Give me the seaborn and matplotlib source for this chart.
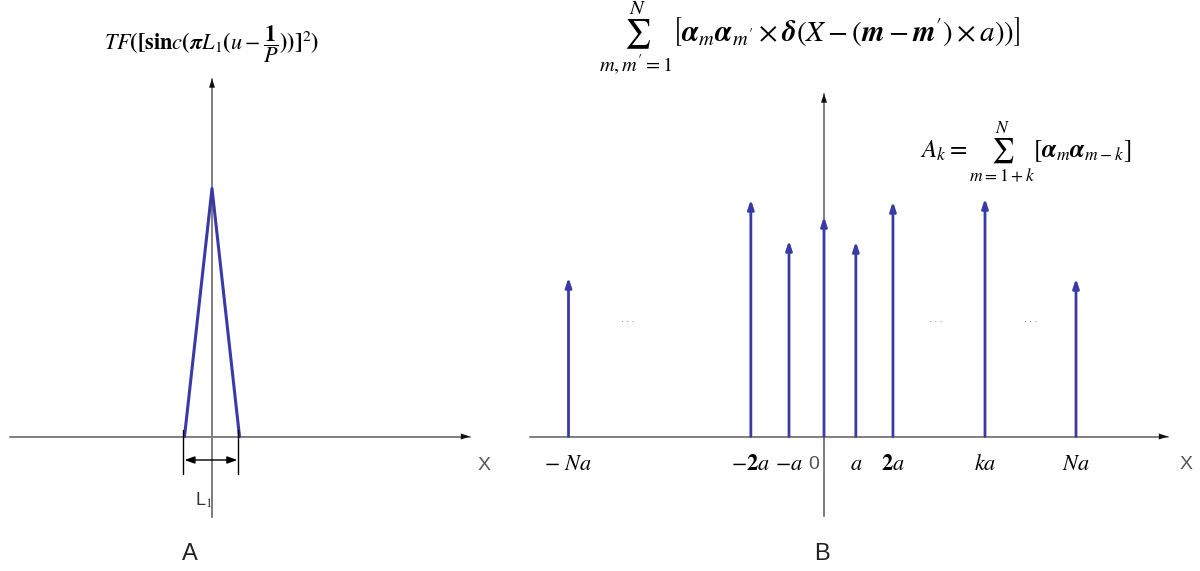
import numpy as np
import pandas as pd
import matplotlib
matplotlib.use("Agg")
import matplotlib.pyplot as plt
import seaborn as sns

# ==================== 数据 ====================
# 图A：三角形（单位 L1）
tri_x = [-0.5, 0.0, 0.5]
tri_y = [0.0, 2.48, 0.0]

# 图B：冲激位置（单位 a）与幅度
pos_b = [-7.3, -2.09, -1.0, 0.0, 0.91, 1.97, 4.6, 7.2]
amp_b = [1.59, 2.37, 1.96, 2.20, 1.95, 2.35, 2.38, 1.58]
tick_labels_b = [r'$-\ Na$', r'$-\mathbf{2}a$', r'$-a$', '0', r'$a$',
                 r'$\mathbf{2}a$', r'$ka$', r'$Na$']
dots_b = [-5.6, 3.2, 5.9]

sns.set_theme(style="white")
plt.rcParams['font.family'] = ['Liberation Sans', 'DejaVu Sans']
plt.rcParams['mathtext.fontset'] = 'stix'

STEM = '#3a3aa6'
AXC = '#808080'

fig = plt.figure(figsize=(12, 5.71), dpi=100)
# 两个面板，坐标与像素对应：y = (436.5 - py)/100
axA = fig.add_axes([0, 0, 500 / 1200, 1])
axB = fig.add_axes([500 / 1200, 0, 700 / 1200, 1])
axA.set_xlim(-212 / 55, 288 / 55)
axB.set_xlim(-324 / 35, 376 / 35)
for ax in (axA, axB):
    ax.set_ylim(-(571 - 436.5) / 100, 436.5 / 100)
    ax.axis('off')


def axis_arrow(ax, x0, y0, x1, y1, lw=1.4):
    # 灰色轴线 + 黑色小箭头
    ax.plot([x0, x1], [y0, y1], color=AXC, lw=lw)
    ax.annotate('', xy=(x1, y1), xytext=(x0, y0),
                arrowprops=dict(arrowstyle='-|>,head_length=0.55,head_width=0.18',
                                color='#111111', lw=0.01, shrinkA=0, shrinkB=0))


# ==================== 图A ====================
axis_arrow(axA, -202 / 55, 0, 258 / 55, 0)
axA.plot([0, 0], [-0.8, 0], color=AXC, lw=1.4)
axis_arrow(axA, 0, -0.8, 0, 3.58)

df_tri = pd.DataFrame({'x': tri_x, 'y': tri_y})
sns.lineplot(data=df_tri, x='x', y='y', ax=axA, color=STEM, lw=2.2,
             sort=False, estimator=None)

# 尺寸标注 L1
for xv in (tri_x[0], tri_x[-1]):
    axA.plot([xv - 0.02, xv - 0.02], [0.07, -0.37], color='black', lw=1.0)
axA.annotate('', xy=(tri_x[-1] - 0.04, -0.235), xytext=(tri_x[0], -0.235),
             arrowprops=dict(arrowstyle='<|-|>,head_length=0.5,head_width=0.18',
                             color='black', lw=1.0, shrinkA=0, shrinkB=0))
axA.text(-0.15, -0.64, r'L$_1$', fontsize=13, color='#333333', ha='center', va='center')
axA.text(272 / 55, -0.29, 'X', fontsize=14, color='#555555', ha='center', va='center')
axA.text(-22 / 55, -1.17, 'A', fontsize=17, color='#222222', ha='center', va='center')
axA.text(0, 3.92,
         r'$TF\mathbf{([sin}c\mathbf{(}\boldsymbol{\pi}L_1\mathbf{(}u-\dfrac{\mathbf{1}}{P}\mathbf{))]}^2\mathbf{)}$',
         fontsize=16, ha='center', va='center', color='black')

# ==================== 图B ====================
axis_arrow(axB, -294 / 35, 0, 344 / 35, 0)
axB.plot([0, 0], [-0.79, 0], color=AXC, lw=1.4)
axis_arrow(axB, 0, -0.79, 0, 3.43)

for xv, h in zip(pos_b, amp_b):
    axB.annotate('', xy=(xv, h), xytext=(xv, 0),
                 arrowprops=dict(arrowstyle='-|>,head_length=0.45,head_width=0.15',
                                 color=STEM, lw=2.0, shrinkA=0, shrinkB=0))

for xv, lab in zip(pos_b, tick_labels_b):
    if lab == '0':
        axB.text(xv - 0.3, -0.28, lab, fontsize=14, color='#555555',
                 ha='center', va='center')
    else:
        axB.text(xv, -0.28, lab, fontsize=16, color='black',
                 ha='center', va='center')

for xv in dots_b:
    axB.text(xv, 1.17, '. . .', fontsize=7, color='#555555', ha='center', va='center')

axB.text(362 / 35, -0.28, 'X', fontsize=14, color='#555555', ha='center', va='center')
axB.text(-0.05, -1.17, 'B', fontsize=17, color='#222222', ha='center', va='center')

axB.text(-0.4, 3.98,
         r'$\sum_{m,m^{\prime}=1}^{N}\left[\boldsymbol{\alpha}_m\boldsymbol{\alpha}_{m^{\prime}}\times\boldsymbol{\delta}(X-(\boldsymbol{m}-\boldsymbol{m}^{\prime})\times a))\right]$',
         fontsize=21, ha='center', va='center', color='black')
axB.text(5.75, 2.83,
         r'$A_k=\sum_{m=1+k}^{N}\left[\boldsymbol{\alpha}_m\boldsymbol{\alpha}_{m-k}\right]$',
         fontsize=18, ha='center', va='center', color='black')

fig.savefig('out.png', dpi=100)
plt.close(fig)
